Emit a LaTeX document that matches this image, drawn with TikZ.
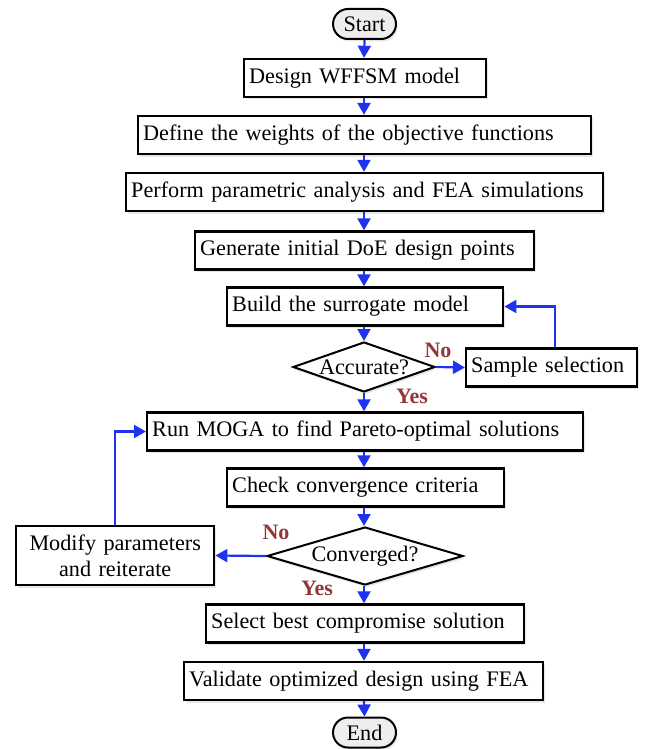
\documentclass[tikz,border=0pt]{standalone}
\usepackage{fontspec}
\setmainfont{Liberation Serif}
\usetikzlibrary{arrows.meta,shapes.geometric,shapes.misc,shadows}
\definecolor{arrblue}{RGB}{30,50,240}
\definecolor{lblred}{RGB}{150,55,55}
\definecolor{termfill}{RGB}{238,238,238}
\begin{document}
\begin{tikzpicture}[x=1pt,y=-1pt,
  every node/.style={font=\fontsize{22.2}{26}\selectfont},
  myshadow/.style={drop shadow={opacity=0.2,shadow xshift=1.5pt,shadow yshift=-2.5pt}},
  stepbox/.style={draw=black,line width=2.4pt,fill=white,myshadow,anchor=west,
    minimum height=38pt,inner xsep=5pt,inner ysep=0pt,align=left},
  term/.style={rounded rectangle,draw=black,line width=2pt,fill=termfill,myshadow,
    minimum width=63pt,minimum height=30pt,inner sep=0pt},
  dia/.style={diamond,draw=black,line width=2pt,fill=white,myshadow,inner sep=0pt},
  arr/.style={draw=arrblue,line width=2.2pt,-{Triangle[length=12pt,width=13pt]}},
  lbl/.style={text=lblred,font=\fontsize{22}{26}\selectfont\bfseries}
]
\useasboundingbox (0,0) rectangle (648,749);

\node[term] (start) at (364.5,24) {Start};
\node[stepbox,minimum width=242pt,text width=232pt] (b1) at (243,78) {Design WFFSM model};
\node[stepbox,minimum width=453pt,text width=443pt] (b2) at (137,135) {Define the weights of the objective functions};
\node[stepbox,minimum width=477pt,text width=467pt] (b3) at (125,192) {Perform parametric analysis and FEA simulations};
\node[stepbox,minimum width=339pt,text width=329pt] (b4) at (194,250.5) {Generate initial DoE design points};
\node[stepbox,minimum width=276pt,text width=266pt] (b5) at (226,306.5) {Build the surrogate model};
\node[dia,aspect=2.84,minimum width=142pt,minimum height=50pt] (d1) at (364,367) {Accurate?};
\node[stepbox,minimum width=171pt,text width=161pt] (smp) at (465,367.5) {Sample selection};
\node[stepbox,minimum width=436pt,text width=426pt] (b6) at (146,431.5) {Run MOGA to find Pareto-optimal solutions};
\node[stepbox,minimum width=277pt,text width=267pt] (b7) at (226,487.5) {Check convergence criteria};
\node[dia,aspect=3.38,minimum width=196pt,minimum height=58pt] (d2) at (365,556) {Converged?};
\node[stepbox,minimum width=198pt,minimum height=59pt,text width=188pt,align=center] (mod) at (15,555.5) {Modify parameters\\and reiterate};
\node[stepbox,minimum width=318pt,text width=308pt] (b8) at (205,623.5) {Select best compromise solution};
\node[stepbox,minimum width=359pt,text width=349pt] (b9) at (183,681) {Validate optimized design using FEA};
\node[term] (end) at (364.5,732.5) {End};

\node[lbl] (no1) at (438,350) {No};
\node[lbl] (yes1) at (412,396) {Yes};
\node[lbl] (no2) at (276,532) {No};
\node[lbl] (yes2) at (317,588) {Yes};

\coordinate (ax) at (364,0);
\draw[arr] (start.south) -- (b1.north -| ax);
\draw[arr] (b1.south -| ax) -- (b2.north -| ax);
\draw[arr] (b2.south -| ax) -- (b3.north -| ax);
\draw[arr] (b3.south -| ax) -- (b4.north -| ax);
\draw[arr] (b4.south -| ax) -- (b5.north -| ax);
\draw[arr] (b5.south -| ax) -- (d1.north);
\draw[arr] (d1.south) -- (b6.north -| ax);
\draw[arr] (d1.east) -- (smp.west);
\draw[arr] ([xshift=3.5pt]smp.north) |- (b5.east);
\draw[arr] (b6.south -| ax) -- (b7.north -| ax);
\draw[arr] (b7.south -| ax) -- (d2.north -| ax);
\draw[arr] (d2.west) -- (mod.east);
\draw[arr] (mod.north) |- (b6.west);
\draw[arr] (d2.south -| ax) -- (b8.north -| ax);
\draw[arr] (b8.south -| ax) -- (b9.north -| ax);
\draw[arr] (b9.south -| ax) -- (end.north);
\end{tikzpicture}
\end{document}
